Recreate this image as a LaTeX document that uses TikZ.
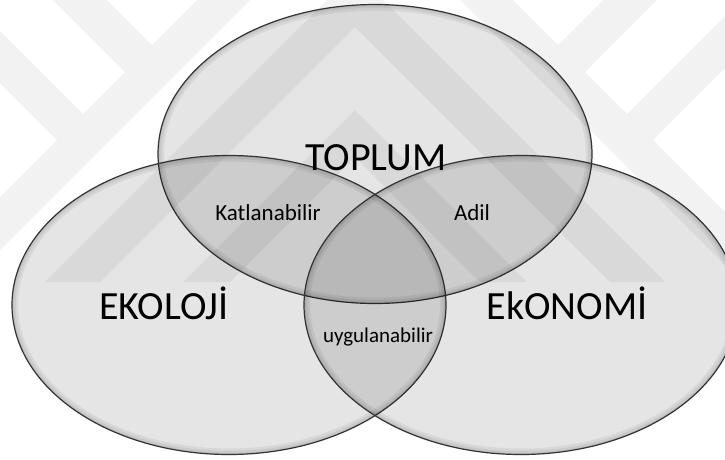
\documentclass[tikz,border=0pt]{standalone}
\usepackage{fontspec}
\setmainfont{Carlito}
\usetikzlibrary{shapes.geometric}
\definecolor{rim}{HTML}{333333}

\begin{document}
\begin{tikzpicture}[x=1pt, y=-1pt]
    \tikzstyle{venn}=[ellipse, inner sep=0pt, minimum width=434pt, minimum height=299pt,
                      fill=black, fill opacity=0.1, draw=rim, line width=1.2pt,
                      path picture={\foreach \w in {12,7,3}
                        \draw[black, opacity=0.06, line width=\w pt]
                          (path picture bounding box.center) ellipse [x radius=217, y radius=149.5];}]
    \tikzstyle{band}=[fill=black, fill opacity=0.05]
    \tikzstyle{big}=[font=\fontsize{40}{48}\selectfont, anchor=base]
    \tikzstyle{small}=[font=\fontsize{23}{28}\selectfont, anchor=base]

    \fill[white] (0,0) rectangle (725,459);
    \useasboundingbox (0,0) rectangle (725,459);

    % faint logo behind
    \begin{scope}
        \clip (0,0) rectangle (725,282);
        \fill[band] (197,0) -- (250,0) -- (-32,282) -- (-85,282) -- cycle;
        \fill[band] (460,0) -- (513,0) -- (795,282) -- (742,282) -- cycle;
        \fill[band] (327,0) -- (383,0) -- (665,282) -- (610,282) -- (355,27)
                    -- (100,282) -- (45,282) -- cycle;
        \fill[band] (355,110) -- (527,282) -- (480,282) -- (355,157)
                    -- (230,282) -- (183,282) -- cycle;
        \fill[band] (53,0) -- (107,0) -- (152,45) -- (125,72) -- cycle;
        \fill[band] (0,31) -- (83,114) -- (57,140) -- (0,83) -- cycle;
        \fill[band] (657,0) -- (603,0) -- (558,45) -- (585,72) -- cycle;
        \fill[band] (627,114) -- (725,16) -- (725,68) -- (653,140) -- cycle;
    \end{scope}

    \node[venn] (toplum)  at (375,154) {};
    \node[venn] (ekoloji) at (229,305) {};
    \node[venn] (ekonomi) at (521,305) {};

    \node[big] (lblTop) at (376,170) {TOPLUM};
    \node[big] (lblEko) at (164,319) {EKOLOJİ};
    \node[big] (lblEkn) at (567,319) {EkONOMİ};
    \node[small] (lblKat)  at (268,220) {Katlanabilir};
    \node[small] (lblAdil) at (472,220) {Adil};
    \node[small, font=\fontsize{21}{25}\selectfont] (lblUyg) at (378,342) {uygulanabilir};
\end{tikzpicture}
\end{document}
